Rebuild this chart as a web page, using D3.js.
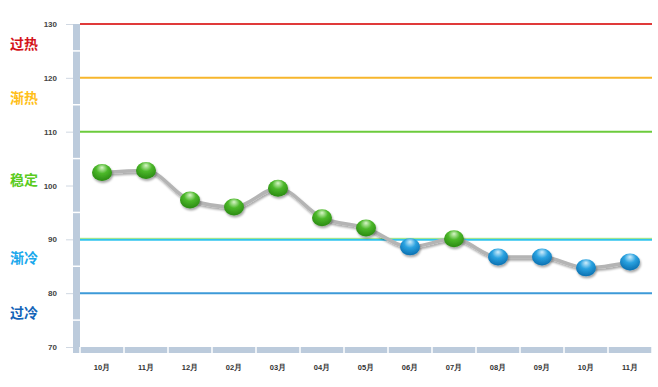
<!DOCTYPE html>
<html>
<head>
<meta charset="utf-8">
<script src="https://cdn.jsdelivr.net/npm/d3@7"></script>
<style>
  body { margin: 0; background: #fff; }
  svg { display: block; font-family: "Liberation Sans", Arial, sans-serif; }
</style>
</head>
<body>
<svg id="chart" width="658" height="387"></svg>
<script>
// 月份、指数值
const months = ['10月', '11月', '12月', '02月', '03月', '04月', '05月', '06月', '07月', '08月', '09月', '10月', '11月'];
const values = [102.4, 102.8, 97.3, 96.0, 99.5, 94.0, 92.1, 88.6, 90.1, 86.7, 86.7, 84.7, 85.8];
const yTicks = [70, 80, 90, 100, 110, 120, 130];

// 区间线及标签
const levels = [130, 120, 110, 90, 80];
const levelColors = ['#e03a3a', '#f7b62c', '#6ccb3c', '#30c4ee', '#3d9ad8'];
const zoneNames = ['过热', '渐热', '稳定', '渐冷', '过冷'];
const zoneValues = [126.3, 116.3, 101.0, 86.5, 76.3];
const zoneColors = ['#d4141a', '#ffbf1a', '#5acb1e', '#1aa8ec', '#1464b8'];

const svg = d3.select('#chart');
const plotL = 80, plotR = 652, plotT = 24, plotB = 347;

const x = d3.scaleBand().domain(d3.range(months.length)).range([plotL, plotR]);
const y = d3.scaleLinear().domain([70, 130]).range([plotB, plotT]);

const defs = svg.append('defs');
function ballGrad(id, dark, mid, light) {
  const g = defs.append('radialGradient').attr('id', id)
    .attr('cx', '50%').attr('cy', '35%').attr('r', '65%').attr('fx', '50%').attr('fy', '20%');
  g.append('stop').attr('offset', '0%').attr('stop-color', light);
  g.append('stop').attr('offset', '45%').attr('stop-color', mid);
  g.append('stop').attr('offset', '100%').attr('stop-color', dark);
}
ballGrad('gGreen', '#2a8a12', '#4cb82a', '#d8f5c8');
ballGrad('gBlue', '#0a6fb0', '#2aa2e0', '#d0eefc');
const shadow = defs.append('filter').attr('id', 'sh').attr('x', '-20%').attr('y', '-50%').attr('width', '140%').attr('height', '200%');
shadow.append('feDropShadow').attr('dx', 1).attr('dy', 2).attr('stdDeviation', 1.2).attr('flood-color', '#000').attr('flood-opacity', 0.35);

// 立体坐标轴（灰蓝色条）
const axisCol = '#bccbdc';
svg.append('rect').attr('x', 73).attr('y', plotT).attr('width', 7).attr('height', plotB - plotT + 6).attr('fill', axisCol);
svg.append('rect').attr('x', 73).attr('y', plotB).attr('width', plotR - 73).attr('height', 6).attr('fill', axisCol);
// 分隔
yTicks.slice(0, -1).forEach(v => {
  svg.append('line').attr('x1', 73).attr('x2', 80)
    .attr('y1', y(v + 5)).attr('y2', y(v + 5)).attr('stroke', '#fff').attr('stroke-width', 1.5);
});
d3.range(months.length + 1).forEach(i => {
  const xx = i < months.length ? x(i) : plotR;
  svg.append('line').attr('x1', xx).attr('x2', xx)
    .attr('y1', plotB).attr('y2', plotB + 6).attr('stroke', '#fff').attr('stroke-width', 1.5);
});

// 刻度
const yAxis = svg.append('g').attr('transform', `translate(73,0)`)
  .call(d3.axisLeft(y).tickValues(yTicks).tickSize(7).tickPadding(9));
yAxis.select('.domain').remove();
yAxis.selectAll('line').attr('stroke', '#d0d8e2');
yAxis.selectAll('text').attr('font-size', 8).attr('font-weight', 'bold').attr('fill', '#444');

const xAxis = svg.append('g').attr('transform', `translate(0,${plotB})`)
  .call(d3.axisBottom(x).tickFormat(i => months[i]).tickSize(0).tickPadding(18));
xAxis.select('.domain').remove();
xAxis.selectAll('text').attr('font-size', 7.5).attr('font-weight', 'bold').attr('fill', '#333');

// 区间线
levels.forEach((v, i) => {
  svg.append('line').attr('x1', plotL).attr('x2', plotR)
    .attr('y1', y(v) + (v === 90 ? 0.5 : 0)).attr('y2', y(v) + (v === 90 ? 0.5 : 0))
    .attr('stroke', levelColors[i]).attr('stroke-width', 2);
});
svg.append('line').attr('x1', plotL).attr('x2', plotR)
  .attr('y1', y(90) - 1).attr('y2', y(90) - 1).attr('stroke', '#9be27a').attr('stroke-width', 1);

// 区间标签
zoneNames.forEach((t, i) => {
  svg.append('text').attr('x', 10).attr('y', y(zoneValues[i]) + 5)
    .attr('font-family', '"Noto Sans CJK SC", sans-serif')
    .attr('font-size', 14).attr('font-weight', 'bold')
    .attr('fill', zoneColors[i]).text(t);
});

// 折线
const line = d3.line()
  .x((d, i) => x(i) + x.bandwidth() / 2)
  .y(d => y(d))
  .curve(d3.curveMonotoneX);
svg.append('path').datum(values).attr('d', line)
  .attr('fill', 'none').attr('stroke', '#b4b4b4').attr('stroke-width', 3.5)
  .attr('filter', 'url(#sh)');

// 圆点
svg.selectAll('.ball').data(values).enter().append('ellipse')
  .attr('class', 'ball')
  .attr('cx', (d, i) => x(i) + x.bandwidth() / 2)
  .attr('cy', d => y(d))
  .attr('rx', 10).attr('ry', 8.5)
  .attr('fill', d => d >= 90 ? 'url(#gGreen)' : 'url(#gBlue)')
  .attr('filter', 'url(#sh)');
</script>
</body>
</html>
